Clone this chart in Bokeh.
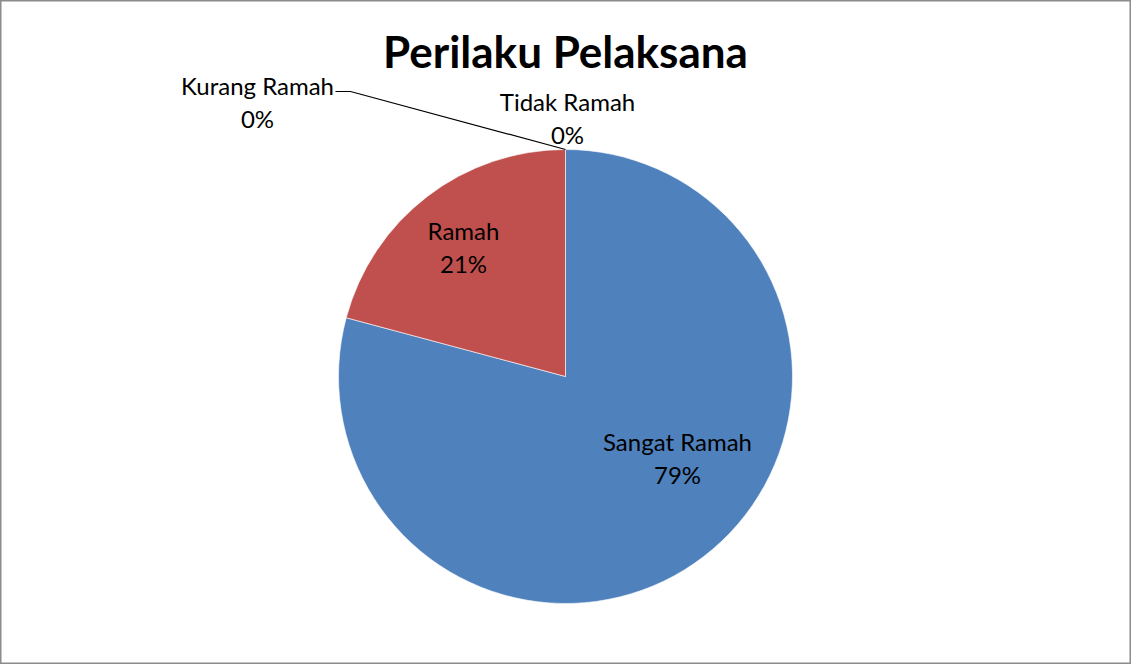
import math
from bokeh.plotting import figure
from bokeh.models import Range1d, ColumnDataSource
from bokeh.core.properties import value
from bokeh.embed import file_html
from bokeh.resources import INLINE

# ---- data ----
categories = ["Sangat Ramah", "Ramah", "Kurang Ramah", "Tidak Ramah"]
counts = [19, 5, 0, 0]
colors = ["#4F81BD", "#C0504D", "#9BBB59", "#8064A2"]
title_text = "Perilaku Pelaksana"

# ---- layout (pixel-like data units) ----
W, H = 1131, 664
cx, cy, R = 565, 288, 227
FONT = "Lato"

p = figure(width=W, height=H, output_backend="svg", toolbar_location=None,
           x_range=Range1d(0, W), y_range=Range1d(0, H),
           min_border=0, background_fill_color="white", border_fill_color="white")
p.axis.visible = False
p.grid.visible = False
p.outline_line_color = "#8c8c8c"
p.outline_line_width = 2

total = sum(counts)
fracs = [c / total for c in counts]
starts, ends, cum = [], [], 0.0
for f in fracs:
    starts.append(math.pi / 2 - cum * 2 * math.pi)
    cum += f
    ends.append(math.pi / 2 - cum * 2 * math.pi)

idx = [i for i, c in enumerate(counts) if c > 0]
src = ColumnDataSource(dict(
    start=[starts[i] for i in idx], end=[ends[i] for i in idx],
    color=[colors[i] for i in idx]))
p.wedge(x=cx, y=cy, radius=R, start_angle="start", end_angle="end",
        direction="clock", fill_color="color", line_color="white",
        line_width=0.6, source=src)

# title
p.text(x=[cx], y=[H - 50], text=[title_text], text_font=value(FONT),
       text_font_style="bold", text_font_size="44px", text_align="center",
       text_baseline="middle", text_color="black")

# data labels: (x, y of first line) per category
label_pos = [(677, 223), (463, 434), (257, 579), (567, 563)]
pct = ["%d%%" % round(f * 100) for f in fracs]
lx = [label_pos[i][0] for i in range(4)]
ly1 = [label_pos[i][1] for i in range(4)]
ly2 = [label_pos[i][1] - 33 for i in range(4)]
p.text(x=lx, y=ly1, text=categories, text_font=value(FONT), text_font_size="24px",
       text_align="center", text_baseline="middle", text_color="black")
p.text(x=lx, y=ly2, text=pct, text_font=value(FONT), text_font_size="24px",
       text_align="center", text_baseline="middle", text_color="black")

# leader line for Kurang Ramah
k = 2
mid = (starts[k] + ends[k]) / 2
ex, ey = cx + R * math.cos(mid), cy + R * math.sin(mid)
p.line(x=[335, 350, ex], y=[573, 573, ey], line_color="black", line_width=1.2)

open("out.html", "w").write(file_html(p, INLINE))
